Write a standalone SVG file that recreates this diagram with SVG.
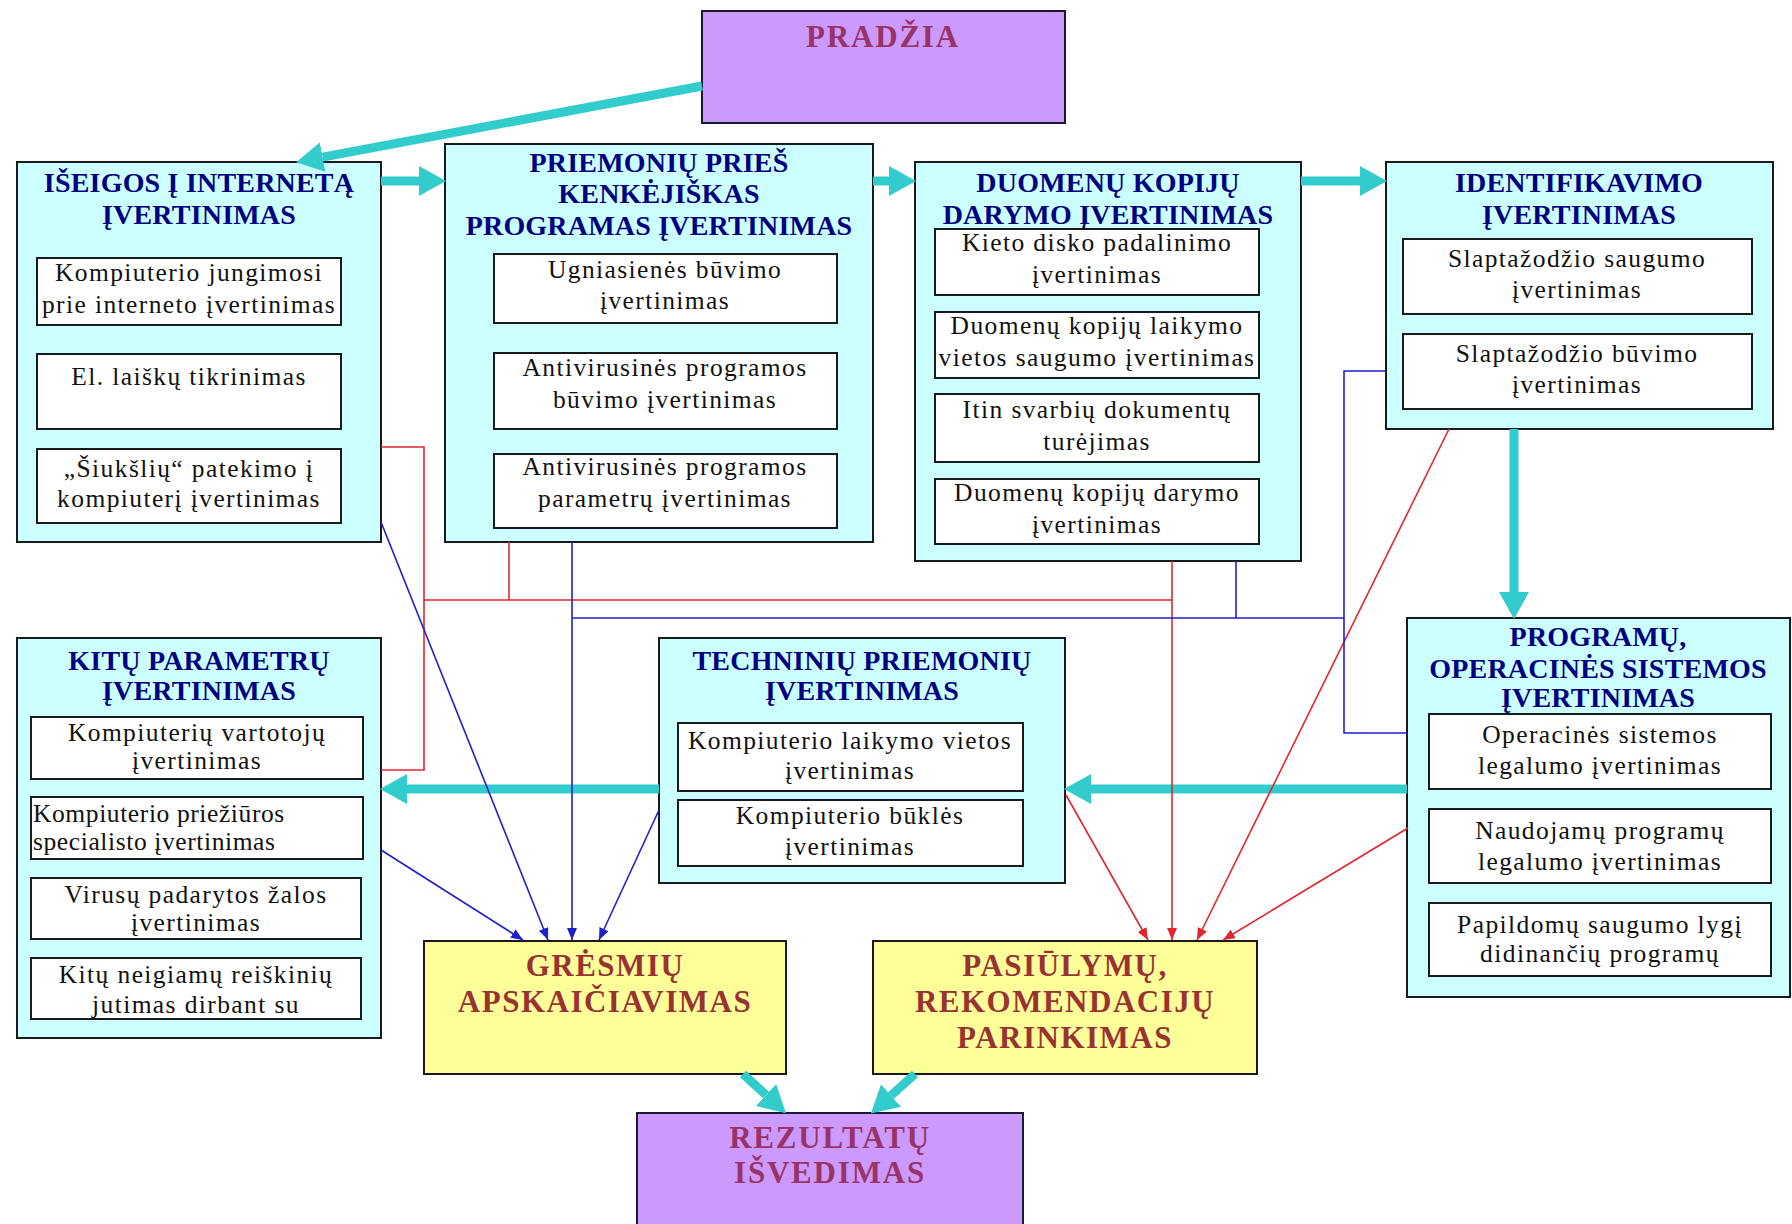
<svg xmlns="http://www.w3.org/2000/svg" width="1792" height="1224" viewBox="0 0 1792 1224">
<style>
.box{fill:#ccffff;stroke:#1a1a1a;stroke-width:2}
.sub{fill:#ffffff;stroke:#1a1a1a;stroke-width:2}
.pur{fill:#cc99ff;stroke:#1a1a2e;stroke-width:2}
.yel{fill:#ffff99;stroke:#1a1a1a;stroke-width:2}
text{font-family:'Liberation Serif','Times New Roman',serif;text-anchor:middle}
.ti{font-weight:bold;font-size:28px;fill:#000080;letter-spacing:0.2px}
.st{font-size:25.5px;fill:#111111;letter-spacing:1.4px}
.bp{font-weight:bold;font-size:31px;fill:#993366;letter-spacing:1.8px}
.by{font-weight:bold;font-size:31px;fill:#993333;letter-spacing:1.5px}
.teal{stroke:#33cccc;stroke-width:9;fill:none;marker-end:url(#ta)}
.blue{stroke:#1f1fcc;stroke-width:1.6;fill:none}
.red{stroke:#e3262e;stroke-width:1.6;fill:none}
.ba{marker-end:url(#ab)}
.ra{marker-end:url(#ar)}
</style>
<defs>
<marker id="ta" markerUnits="userSpaceOnUse" markerWidth="27" markerHeight="30" viewBox="0 0 27 30" refX="0" refY="15" orient="auto"><path d="M0,0 L27,15 L0,30 z" fill="#33cccc"/></marker>
<marker id="ab" markerUnits="userSpaceOnUse" markerWidth="12" markerHeight="10" viewBox="0 0 12 10" refX="12" refY="5" orient="auto"><path d="M0,0 L12,5 L0,10 z" fill="#1f1fcc"/></marker>
<marker id="ar" markerUnits="userSpaceOnUse" markerWidth="12" markerHeight="10" viewBox="0 0 12 10" refX="12" refY="5" orient="auto"><path d="M0,0 L12,5 L0,10 z" fill="#e3262e"/></marker>
</defs>
<rect width="1792" height="1224" fill="#ffffff"/>

<g id="pradzia">
<rect class="pur" x="702" y="11" width="363" height="112"/>
<text class="bp" x="883" y="47">PRADŽIA</text>
</g>

<g id="iseigos">
<rect class="box" x="17" y="162" width="364" height="380"/>
<text class="ti"><tspan x="199" y="192">IŠEIGOS Į INTERNETĄ</tspan><tspan x="199" y="224">ĮVERTINIMAS</tspan></text>
<rect class="sub" x="37" y="258" width="304" height="67"/>
<text class="st"><tspan x="189" y="281">Kompiuterio jungimosi</tspan><tspan x="189" y="313">prie interneto įvertinimas</tspan></text>
<rect class="sub" x="37" y="354" width="304" height="75"/>
<text class="st" x="189" y="385">El. laiškų tikrinimas</text>
<rect class="sub" x="37" y="449" width="304" height="74"/>
<text class="st"><tspan x="189" y="477">„Šiukšlių“ patekimo į</tspan><tspan x="189" y="507">kompiuterį įvertinimas</tspan></text>
</g>

<g id="priemoniu">
<rect class="box" x="445" y="144" width="428" height="398"/>
<text class="ti"><tspan x="659" y="172">PRIEMONIŲ PRIEŠ</tspan><tspan x="659" y="203">KENKĖJIŠKAS</tspan><tspan x="659" y="235">PROGRAMAS ĮVERTINIMAS</tspan></text>
<rect class="sub" x="494" y="254" width="343" height="69"/>
<text class="st"><tspan x="665" y="278">Ugniasienės būvimo</tspan><tspan x="665" y="309">įvertinimas</tspan></text>
<rect class="sub" x="494" y="353" width="343" height="76"/>
<text class="st"><tspan x="665" y="376">Antivirusinės programos</tspan><tspan x="665" y="408">būvimo įvertinimas</tspan></text>
<rect class="sub" x="494" y="454" width="343" height="74"/>
<text class="st"><tspan x="665" y="475">Antivirusinės programos</tspan><tspan x="665" y="507">parametrų įvertinimas</tspan></text>
</g>

<g id="duomenu">
<rect class="box" x="915" y="162" width="386" height="399"/>
<text class="ti"><tspan x="1108" y="192">DUOMENŲ KOPIJŲ</tspan><tspan x="1108" y="224">DARYMO ĮVERTINIMAS</tspan></text>
<rect class="sub" x="935" y="229" width="324" height="66"/>
<text class="st"><tspan x="1097" y="251">Kieto disko padalinimo</tspan><tspan x="1097" y="283">įvertinimas</tspan></text>
<rect class="sub" x="935" y="312" width="324" height="66"/>
<text class="st"><tspan x="1097" y="334">Duomenų kopijų laikymo</tspan><tspan x="1097" y="366">vietos saugumo įvertinimas</tspan></text>
<rect class="sub" x="935" y="394" width="324" height="68"/>
<text class="st"><tspan x="1097" y="418">Itin svarbių dokumentų</tspan><tspan x="1097" y="450">turėjimas</tspan></text>
<rect class="sub" x="935" y="479" width="324" height="65"/>
<text class="st"><tspan x="1097" y="501">Duomenų kopijų darymo</tspan><tspan x="1097" y="533">įvertinimas</tspan></text>
</g>

<g id="identifikavimo">
<rect class="box" x="1386" y="162" width="387" height="267"/>
<text class="ti"><tspan x="1579" y="192">IDENTIFIKAVIMO</tspan><tspan x="1579" y="224">ĮVERTINIMAS</tspan></text>
<rect class="sub" x="1403" y="239" width="349" height="75"/>
<text class="st"><tspan x="1577" y="267">Slaptažodžio saugumo</tspan><tspan x="1577" y="298">įvertinimas</tspan></text>
<rect class="sub" x="1403" y="334" width="349" height="75"/>
<text class="st"><tspan x="1577" y="362">Slaptažodžio būvimo</tspan><tspan x="1577" y="393">įvertinimas</tspan></text>
</g>

<g id="programu">
<rect class="box" x="1407" y="618" width="383" height="379"/>
<text class="ti"><tspan x="1598" y="646">PROGRAMŲ,</tspan><tspan x="1598" y="678">OPERACINĖS SISTEMOS</tspan><tspan x="1598" y="707">ĮVERTINIMAS</tspan></text>
<rect class="sub" x="1429" y="714" width="342" height="75"/>
<text class="st"><tspan x="1600" y="743">Operacinės sistemos</tspan><tspan x="1600" y="774">legalumo įvertinimas</tspan></text>
<rect class="sub" x="1429" y="809" width="342" height="74"/>
<text class="st"><tspan x="1600" y="839">Naudojamų programų</tspan><tspan x="1600" y="870">legalumo įvertinimas</tspan></text>
<rect class="sub" x="1429" y="903" width="342" height="73"/>
<text class="st"><tspan x="1600" y="933">Papildomų saugumo lygį</tspan><tspan x="1600" y="962">didinančių programų</tspan></text>
</g>

<g id="kitu">
<rect class="box" x="17" y="638" width="364" height="400"/>
<text class="ti"><tspan x="199" y="670">KITŲ PARAMETRŲ</tspan><tspan x="199" y="700">ĮVERTINIMAS</tspan></text>
<rect class="sub" x="31" y="717" width="332" height="62"/>
<text class="st"><tspan x="197" y="741">Kompiuterių vartotojų</tspan><tspan x="197" y="769">įvertinimas</tspan></text>
<rect class="sub" x="31" y="797" width="332" height="62"/>
<text class="st" style="text-anchor:start;letter-spacing:0.6px"><tspan x="33" y="822">Kompiuterio priežiūros</tspan><tspan x="33" y="850">specialisto įvertinimas</tspan></text>
<rect class="sub" x="31" y="878" width="330" height="61"/>
<text class="st"><tspan x="196" y="903">Virusų padarytos žalos</tspan><tspan x="196" y="931">įvertinimas</tspan></text>
<rect class="sub" x="31" y="958" width="330" height="61"/>
<text class="st"><tspan x="196" y="983">Kitų neigiamų reiškinių</tspan><tspan x="196" y="1013">jutimas dirbant su</tspan></text>
</g>

<g id="techniniu">
<rect class="box" x="659" y="638" width="406" height="245"/>
<text class="ti"><tspan x="862" y="670">TECHNINIŲ PRIEMONIŲ</tspan><tspan x="862" y="700">ĮVERTINIMAS</tspan></text>
<rect class="sub" x="678" y="723" width="345" height="68"/>
<text class="st"><tspan x="850" y="749">Kompiuterio laikymo vietos</tspan><tspan x="850" y="779">įvertinimas</tspan></text>
<rect class="sub" x="678" y="800" width="345" height="66"/>
<text class="st"><tspan x="850" y="824">Kompiuterio būklės</tspan><tspan x="850" y="855">įvertinimas</tspan></text>
</g>

<g id="gresmiu">
<rect class="yel" x="424" y="941" width="362" height="133"/>
<text class="by"><tspan x="605" y="976">GRĖSMIŲ</tspan><tspan x="605" y="1012">APSKAIČIAVIMAS</tspan></text>
</g>

<g id="pasiulymu">
<rect class="yel" x="873" y="941" width="384" height="133"/>
<text class="by"><tspan x="1065" y="976">PASIŪLYMŲ,</tspan><tspan x="1065" y="1012">REKOMENDACIJŲ</tspan><tspan x="1065" y="1048">PARINKIMAS</tspan></text>
</g>

<g id="rezultatu">
<rect class="pur" x="637" y="1113" width="386" height="120"/>
<text class="bp"><tspan x="830" y="1148">REZULTATŲ</tspan><tspan x="830" y="1183">IŠVEDIMAS</tspan></text>
</g>

<g id="connectors">
<path class="teal" d="M702,86 L322.6,157.2"/>
<path class="teal" d="M381,181 L419,181"/>
<path class="teal" d="M873,181 L889,181"/>
<path class="teal" d="M1301,181 L1360,181"/>
<path class="teal" d="M1514,429 L1514,592"/>
<path class="teal" d="M1407,789 L1091,789"/>
<path class="teal" d="M659,789 L407,789"/>
<path class="teal" d="M743,1074 L766,1095"/>
<path class="teal" d="M915,1074 L891,1095.5"/>

<path class="red" d="M381,447 H424 V770 H381"/>
<path class="red" d="M424,600 H1172"/>
<path class="red" d="M509,542 V600"/>
<path class="red ra" d="M1172,561 V940"/>
<path class="red ra" d="M1066,795 L1148,940"/>
<path class="red ra" d="M1449,429 L1197,940"/>
<path class="red ra" d="M1408,828 L1223,940"/>

<path class="blue" d="M572,618 H1344"/>
<path class="blue" d="M1236,561 V618"/>
<path class="blue" d="M1386,371 H1344 V733 H1407"/>
<path class="blue ba" d="M572,542 V940"/>
<path class="blue ba" d="M381,522 L548,940"/>
<path class="blue ba" d="M381,850 L523,940"/>
<path class="blue ba" d="M659,810 L599,940"/>
</g>
</svg>
